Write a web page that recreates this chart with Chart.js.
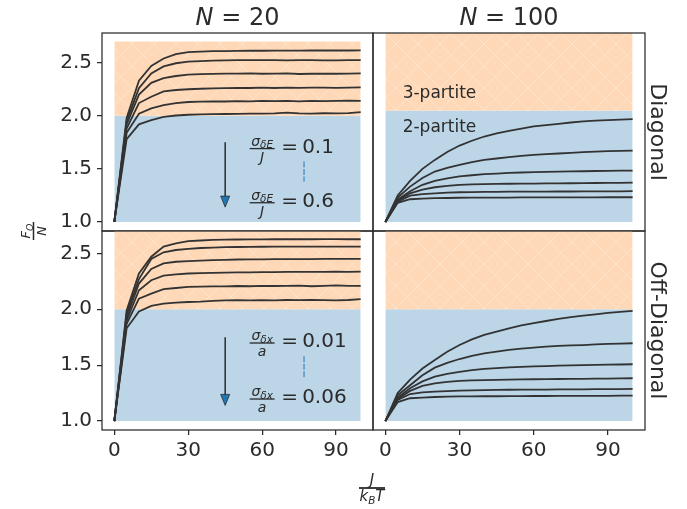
<!DOCTYPE html>
<html>
<head>
<meta charset="utf-8">
<script src="https://cdn.jsdelivr.net/npm/chart.js@4.4.1/dist/chart.umd.min.js"></script>
<style>
  html, body { margin: 0; padding: 0; background: #fff; }
  #wrap { position: relative; width: 687px; height: 509px; }
  #wrap canvas { position: absolute; left: 0; top: 0; }
</style>
</head>
<body>
<div id="wrap">
  <canvas id="panel-tl" width="687" height="509"></canvas>
  <canvas id="panel-tr" width="687" height="509"></canvas>
  <canvas id="panel-bl" width="687" height="509"></canvas>
  <canvas id="panel-br" width="687" height="509"></canvas>
</div>
<script>
// J / kBT sample points
const J_KT = [0, 5, 10, 15, 20, 25, 30, 35, 40, 45, 50, 55, 60, 65, 70, 75, 80, 85, 90, 95, 100];

// F_Q / N, one list per sigma value (top curve first)
const N20_DIAGONAL = [
  [1.00, 1.98, 2.33, 2.47, 2.54, 2.58, 2.60, 2.605, 2.61, 2.61, 2.612, 2.613, 2.613, 2.614, 2.614, 2.614, 2.615, 2.615, 2.615, 2.615, 2.616],
  [1.00, 1.95, 2.26, 2.40, 2.465, 2.495, 2.51, 2.515, 2.52, 2.522, 2.524, 2.525, 2.524, 2.525, 2.523, 2.524, 2.524, 2.522, 2.523, 2.524, 2.525],
  [1.00, 1.92, 2.20, 2.31, 2.355, 2.375, 2.387, 2.392, 2.395, 2.398, 2.398, 2.40, 2.396, 2.398, 2.40, 2.394, 2.396, 2.398, 2.396, 2.398, 2.40],
  [1.00, 1.88, 2.12, 2.18, 2.23, 2.243, 2.25, 2.255, 2.258, 2.26, 2.262, 2.262, 2.265, 2.262, 2.266, 2.264, 2.266, 2.265, 2.264, 2.266, 2.267],
  [1.00, 1.84, 2.02, 2.07, 2.10, 2.12, 2.13, 2.133, 2.135, 2.135, 2.138, 2.136, 2.14, 2.138, 2.14, 2.136, 2.14, 2.138, 2.14, 2.142, 2.14],
  [1.00, 1.78, 1.92, 1.96, 1.99, 2.003, 2.01, 2.013, 2.015, 2.017, 2.018, 2.02, 2.02, 2.022, 2.03, 2.022, 2.02, 2.024, 2.022, 2.025, 2.035],
];
const N100_DIAGONAL = [
  [1.00, 1.25, 1.387, 1.50, 1.585, 1.66, 1.72, 1.765, 1.805, 1.835, 1.858, 1.88, 1.90, 1.913, 1.925, 1.937, 1.947, 1.954, 1.96, 1.965, 1.969],
  [1.00, 1.23, 1.333, 1.415, 1.475, 1.51, 1.537, 1.563, 1.585, 1.598, 1.61, 1.622, 1.632, 1.64, 1.645, 1.651, 1.657, 1.662, 1.667, 1.67, 1.673],
  [1.00, 1.21, 1.29, 1.35, 1.387, 1.41, 1.43, 1.44, 1.45, 1.456, 1.462, 1.466, 1.47, 1.472, 1.474, 1.476, 1.478, 1.48, 1.482, 1.483, 1.484],
  [1.00, 1.20, 1.27, 1.305, 1.327, 1.34, 1.35, 1.354, 1.357, 1.358, 1.36, 1.361, 1.362, 1.363, 1.364, 1.365, 1.366, 1.367, 1.368, 1.369, 1.37],
  [1.00, 1.19, 1.248, 1.262, 1.27, 1.276, 1.28, 1.282, 1.283, 1.284, 1.285, 1.285, 1.286, 1.286, 1.287, 1.287, 1.288, 1.288, 1.289, 1.289, 1.29],
  [1.00, 1.18, 1.214, 1.22, 1.224, 1.226, 1.228, 1.229, 1.229, 1.23, 1.23, 1.231, 1.231, 1.231, 1.232, 1.232, 1.232, 1.232, 1.233, 1.233, 1.233],
];
const N20_OFFDIAGONAL = [
  [1.00, 1.99, 2.32, 2.47, 2.56, 2.59, 2.61, 2.615, 2.62, 2.622, 2.624, 2.625, 2.625, 2.626, 2.626, 2.626, 2.626, 2.627, 2.627, 2.626, 2.626],
  [1.00, 1.96, 2.27, 2.45, 2.51, 2.53, 2.54, 2.548, 2.552, 2.555, 2.557, 2.558, 2.559, 2.56, 2.56, 2.56, 2.56, 2.56, 2.56, 2.561, 2.56],
  [1.00, 1.93, 2.23, 2.36, 2.41, 2.425, 2.43, 2.435, 2.44, 2.442, 2.445, 2.446, 2.447, 2.448, 2.448, 2.448, 2.449, 2.45, 2.45, 2.45, 2.45],
  [1.00, 1.90, 2.17, 2.26, 2.30, 2.312, 2.32, 2.324, 2.325, 2.328, 2.33, 2.33, 2.332, 2.332, 2.334, 2.334, 2.335, 2.334, 2.336, 2.335, 2.336],
  [1.00, 1.87, 2.095, 2.14, 2.18, 2.19, 2.20, 2.202, 2.205, 2.205, 2.208, 2.206, 2.21, 2.208, 2.21, 2.212, 2.206, 2.21, 2.214, 2.21, 2.21],
  [1.00, 1.83, 1.98, 2.03, 2.05, 2.06, 2.065, 2.068, 2.075, 2.08, 2.082, 2.08, 2.082, 2.08, 2.083, 2.082, 2.084, 2.082, 2.08, 2.083, 2.09],
];
const N100_OFFDIAGONAL = [
  [1.00, 1.25, 1.37, 1.47, 1.547, 1.62, 1.68, 1.73, 1.77, 1.80, 1.83, 1.855, 1.875, 1.895, 1.913, 1.93, 1.943, 1.955, 1.967, 1.977, 1.985],
  [1.00, 1.23, 1.32, 1.41, 1.478, 1.52, 1.555, 1.583, 1.606, 1.622, 1.636, 1.647, 1.657, 1.665, 1.672, 1.677, 1.68, 1.685, 1.69, 1.693, 1.696],
  [1.00, 1.21, 1.293, 1.355, 1.397, 1.422, 1.44, 1.455, 1.466, 1.474, 1.48, 1.485, 1.489, 1.492, 1.495, 1.498, 1.50, 1.502, 1.504, 1.506, 1.508],
  [1.00, 1.20, 1.27, 1.315, 1.338, 1.35, 1.359, 1.364, 1.367, 1.369, 1.37, 1.372, 1.374, 1.375, 1.376, 1.377, 1.378, 1.379, 1.38, 1.382, 1.383],
  [1.00, 1.19, 1.242, 1.256, 1.263, 1.268, 1.272, 1.275, 1.277, 1.279, 1.28, 1.281, 1.281, 1.282, 1.283, 1.284, 1.284, 1.285, 1.286, 1.286, 1.287],
  [1.00, 1.17, 1.204, 1.21, 1.215, 1.218, 1.22, 1.221, 1.222, 1.222, 1.223, 1.223, 1.224, 1.224, 1.225, 1.225, 1.225, 1.226, 1.226, 1.227, 1.227],
];

// shaded bands: 2-partite from floor to its top, 3-partite above
const BAND_X = [0, 100];
const BAND_FLOOR = 1.0;
const TWO_PARTITE_TOP = { tl: 2.0, tr: 2.05, bl: 2.0, br: 2.0 };
const THREE_PARTITE_TOP = { tl: 2.7, tr: 2.8, bl: 2.7, br: 2.8 };

const X_TICKS = [0, 30, 60, 90];
const Y_TICKS = [1.0, 1.5, 2.0, 2.5];
const X_LIMITS = [-5, 105];
const Y_LIMITS_DIAG = [0.915, 2.78];
const Y_LIMITS_OFF = [0.92, 2.70];

const FONT = "'DejaVu Sans', sans-serif";
const INK = "#2b2b2b";
const LINE = "#333333";
const BLUE = "#bcd6e8";
const ORANGE = "#ffd9b7";
const TAB_BLUE = "#1f77b4";

const makeHatch = (canvas) => {
  const n = 22;
  const tile = document.createElement("canvas");
  tile.width = tile.height = n;
  const g = tile.getContext("2d");
  g.fillStyle = ORANGE;
  g.fillRect(0, 0, n, n);
  g.strokeStyle = "rgba(255,255,255,0.3)";
  g.lineWidth = 1;
  g.beginPath();
  g.moveTo(0, 0); g.lineTo(n, n);
  g.moveTo(n, 0); g.lineTo(0, n);
  g.stroke();
  return canvas.getContext("2d").createPattern(tile, "repeat");
};

// text pieces: [text, size, italic, dy]
const runsWidth = (ctx, runs) =>
  runs.reduce((w, r) => {
    ctx.font = `${r[2] ? "italic " : ""}${r[1]}px ${FONT}`;
    return w + ctx.measureText(r[0]).width;
  }, 0);

const drawRuns = (ctx, runs, x, y) => {
  let cx = x;
  runs.forEach((r) => {
    ctx.font = `${r[2] ? "italic " : ""}${r[1]}px ${FONT}`;
    ctx.fillText(r[0], cx, y + (r[3] || 0));
    cx += ctx.measureText(r[0]).width;
  });
  return cx;
};

const drawFrac = (ctx, cx, barY, num, den, barW, lw, gapN, gapD) => {
  ctx.textBaseline = "alphabetic";
  ctx.textAlign = "left";
  drawRuns(ctx, num, cx - runsWidth(ctx, num) / 2, barY - gapN);
  drawRuns(ctx, den, cx - runsWidth(ctx, den) / 2, barY + gapD);
  ctx.fillRect(cx - barW / 2, barY - lw / 2, barW, lw);
};

const frame = {
  id: "frame",
  afterDatasetsDraw(chart) {
    const { ctx, chartArea: a } = chart;
    ctx.save();
    ctx.strokeStyle = INK;
    ctx.lineWidth = 1.25;
    ctx.strokeRect(a.left, a.top, a.right - a.left, a.bottom - a.top);
    ctx.restore();
  },
};

const panelText = {
  id: "panelText",
  afterDraw(chart, args, o) {
    const { ctx, chartArea: a, scales } = chart;
    const px = (v) => scales.x.getPixelForValue(v);
    const py = (v) => scales.y.getPixelForValue(v);
    ctx.save();
    ctx.fillStyle = INK;

    if (o.title) {
      const runs = [["N", 24, true], [" = " + o.title, 24, false]];
      ctx.textBaseline = "alphabetic";
      drawRuns(ctx, runs, (a.left + a.right) / 2 - runsWidth(ctx, runs) / 2, a.top - 8);
    }

    if (o.side) {
      ctx.save();
      ctx.translate(a.right + 12, (a.top + a.bottom) / 2);
      ctx.rotate(Math.PI / 2);
      ctx.font = `22px ${FONT}`;
      ctx.textAlign = "center";
      ctx.textBaseline = "middle";
      ctx.fillText(o.side, 0, 0);
      ctx.restore();
    }

    if (o.bands) {
      ctx.font = `17px ${FONT}`;
      ctx.textAlign = "left";
      ctx.textBaseline = "middle";
      o.bands.forEach((b) => ctx.fillText(b[0], px(b[1]), py(b[2])));
    }

    if (o.sweep) {
      const s = o.sweep;
      // arrow
      const ax = px(s.arrowX);
      const y0 = py(s.arrowFrom);
      const y1 = py(s.arrowTo);
      ctx.strokeStyle = INK;
      ctx.lineWidth = 1.5;
      ctx.beginPath();
      ctx.moveTo(ax, y0);
      ctx.lineTo(ax, y1 - 10);
      ctx.stroke();
      ctx.beginPath();
      ctx.moveTo(ax, y1);
      ctx.lineTo(ax - 4.5, y1 - 11);
      ctx.lineTo(ax + 4.5, y1 - 11);
      ctx.closePath();
      ctx.fillStyle = TAB_BLUE;
      ctx.fill();
      ctx.lineWidth = 0.8;
      ctx.stroke();

      // dotted connector
      ctx.strokeStyle = TAB_BLUE;
      ctx.lineWidth = 1;
      ctx.setLineDash([6, 1.5]);
      ctx.beginPath();
      ctx.moveTo(px(s.dotsX), py(s.dotsFrom));
      ctx.lineTo(px(s.dotsX), py(s.dotsTo));
      ctx.stroke();
      ctx.setLineDash([]);

      ctx.fillStyle = INK;
      s.values.forEach((v, i) => {
        const cx = px(s.fracX);
        const mid = py(s.labelY[i]);
        drawFrac(ctx, cx, mid + 2, s.num, s.den, 25, 1.3, 3, 13);
        ctx.font = `20px ${FONT}`;
        ctx.textBaseline = "middle";
        ctx.textAlign = "left";
        ctx.fillText("=", cx + 19, mid + 1);
        ctx.fillText(v, cx + 40, mid + 1);
      });
    }

    if (o.figure) {
      // shared axis labels
      ctx.save();
      ctx.translate(33.5, 231);
      ctx.rotate(-Math.PI / 2);
      drawFrac(ctx, 0, 0, [["F", 13, true], ["Q", 9.5, true, 3]], [["N", 13, true]], 18, 1.5, 4, 12);
      ctx.restore();
      drawFrac(ctx, 372, 488, [["J", 15, true]], [["k", 15, true], ["B", 10.5, true, 3], ["T", 15, true]], 26, 1.8, 3, 13);
    }
    ctx.restore();
  },
};

const buildPanel = (id, cfg) => {
  const canvas = document.getElementById(id);
  const hatch = makeHatch(canvas);
  const curves = cfg.curves.map((vals) => ({
    data: J_KT.map((x, i) => ({ x, y: vals[i] })),
    borderColor: LINE,
    borderWidth: 1.8,
    pointRadius: 0,
    tension: 0,
    fill: false,
  }));
  const bands = [
    {
      data: BAND_X.map((x) => ({ x, y: cfg.threeTop })),
      fill: { value: cfg.twoTop },
      backgroundColor: hatch,
      borderWidth: 0,
      pointRadius: 0,
    },
    {
      data: BAND_X.map((x) => ({ x, y: cfg.twoTop })),
      fill: { value: BAND_FLOOR },
      backgroundColor: BLUE,
      borderWidth: 0,
      pointRadius: 0,
    },
  ];
  const tickGrid = { drawOnChartArea: false, drawTicks: true, tickLength: 5, color: INK, lineWidth: 1.25 };
  return new Chart(canvas, {
    type: "line",
    data: { datasets: [...curves, ...bands] },
    options: {
      responsive: false,
      animation: false,
      events: [],
      layout: { padding: cfg.pad },
      plugins: {
        legend: { display: false },
        tooltip: { enabled: false },
        filler: { drawTime: "beforeDatasetsDraw" },
        panelText: cfg.text,
      },
      scales: {
        x: {
          type: "linear",
          min: X_LIMITS[0],
          max: X_LIMITS[1],
          display: cfg.showX,
          afterBuildTicks: (s) => { s.ticks = X_TICKS.map((v) => ({ value: v })); },
          afterFit: (s) => { if (cfg.showX) s.height = 79; },
          grid: tickGrid,
          border: { display: false },
          ticks: { font: { family: FONT, size: 20 }, color: INK, padding: 4, maxRotation: 0 },
        },
        y: {
          type: "linear",
          min: cfg.yLim[0],
          max: cfg.yLim[1],
          display: cfg.showY,
          afterBuildTicks: (s) => { s.ticks = Y_TICKS.map((v) => ({ value: v })); },
          afterFit: (s) => { if (cfg.showY) s.width = 102; },
          grid: tickGrid,
          border: { display: false },
          ticks: { font: { family: FONT, size: 20 }, color: INK, padding: 5, callback: (v) => v.toFixed(1) },
        },
      },
    },
    plugins: [frame, panelText],
  });
};

const SWEEP_DIAG = {
  arrowX: 45, arrowFrom: 1.75, arrowTo: 1.14,
  dotsX: 77, dotsFrom: 1.57, dotsTo: 1.38,
  fracX: 60, labelY: [1.71, 1.2],
  num: [["σ", 14, true], ["δE", 10.5, true, 2.5]],
  den: [["J", 14, true]],
  values: ["0.1", "0.6"],
};
const SWEEP_OFF = {
  arrowX: 45, arrowFrom: 1.75, arrowTo: 1.14,
  dotsX: 77, dotsFrom: 1.58, dotsTo: 1.385,
  fracX: 60, labelY: [1.716, 1.215],
  num: [["σ", 14, true], ["δx", 10.5, true, 2.5]],
  den: [["a", 14, true]],
  values: ["0.01", "0.06"],
};

buildPanel("panel-tl", {
  curves: N20_DIAGONAL, twoTop: TWO_PARTITE_TOP.tl, threeTop: THREE_PARTITE_TOP.tl,
  yLim: Y_LIMITS_DIAG, showX: false, showY: true,
  pad: { left: 0, top: 33, right: 314, bottom: 278 },
  text: { title: "20", sweep: SWEEP_DIAG },
});
buildPanel("panel-tr", {
  curves: N100_DIAGONAL, twoTop: TWO_PARTITE_TOP.tr, threeTop: THREE_PARTITE_TOP.tr,
  yLim: Y_LIMITS_DIAG, showX: false, showY: false,
  pad: { left: 373, top: 33, right: 42, bottom: 278 },
  text: { title: "100", side: "Diagonal", bands: [["3-partite", 7, 2.21], ["2-partite", 7, 1.89]] },
});
buildPanel("panel-bl", {
  curves: N20_OFFDIAGONAL, twoTop: TWO_PARTITE_TOP.bl, threeTop: THREE_PARTITE_TOP.bl,
  yLim: Y_LIMITS_OFF, showX: true, showY: true,
  pad: { left: 0, top: 231, right: 314, bottom: 0 },
  text: { sweep: SWEEP_OFF, figure: true },
});
buildPanel("panel-br", {
  curves: N100_OFFDIAGONAL, twoTop: TWO_PARTITE_TOP.br, threeTop: THREE_PARTITE_TOP.br,
  yLim: Y_LIMITS_OFF, showX: true, showY: false,
  pad: { left: 373, top: 231, right: 42, bottom: 0 },
  text: { side: "Off-Diagonal" },
});
</script>
</body>
</html>
